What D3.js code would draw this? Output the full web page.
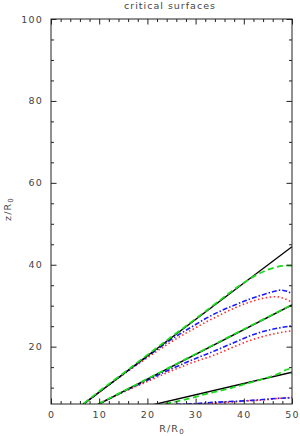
<!DOCTYPE html>
<html>
<head>
<meta charset="utf-8">
<script src="https://cdn.jsdelivr.net/npm/d3@7"></script>
<style>
  html, body { margin: 0; padding: 0; background: #fff; }
  svg { display: block; }
  text { font-family: "DejaVu Sans", sans-serif; fill: #444; }
</style>
</head>
<body>
<div id="chart"></div>
<script>
// straight critical lines through the origin (R, z end points)
const lineR = [0, 50];
const lineTopZ = [0, 44.4];
const lineMidZ = [0, 30.2];
const lineLowZ = [0, 13.75];

// green dashed
const greenTopR = [6.8, 10, 15, 20, 25, 30, 35, 38, 40, 42, 44, 46, 48, 50];
const greenTopZ = [6.1, 9.1, 13.5, 18.0, 22.4, 26.8, 31.3, 34.0, 35.6, 37.1, 38.3, 39.2, 39.7, 39.8];
const greenMidR = [9.9, 20, 30, 40, 50];
const greenMidZ = [6.05, 12.15, 18.2, 24.25, 30.25];
const greenLowR = [23.7, 26, 28.9, 32, 35, 37.9, 41, 44.8, 47, 49.4, 50];
const greenLowZ = [6.0, 6.6, 7.4, 8.4, 9.2, 10.1, 11.1, 12.4, 13.3, 14.5, 13.3];

// blue dash-dot
const blueTopR = [6.8, 10, 15, 20, 22, 25, 28, 30, 32, 35, 38, 41, 44, 46, 47.6, 49, 50];
const blueTopZ = [6.0, 8.9, 13.3, 17.6, 19.3, 21.8, 24.0, 25.4, 26.8, 28.6, 30.1, 31.5, 32.7, 33.4, 33.8, 33.5, 32.9];
const blueMidR = [9.95, 15, 20, 25, 30, 34, 38, 41, 44, 47, 50];
const blueMidZ = [6.0, 9.0, 11.8, 14.6, 17.1, 19.0, 21.0, 22.5, 23.7, 24.5, 25.1];
const blueLowR = [26, 30, 33.7, 37, 40.6, 44, 47.5, 50];
const blueLowZ = [5.9, 6.1, 6.4, 6.6, 6.8, 7.1, 7.4, 7.5];

// red dotted
const redTopR = [6.8, 10, 15, 20, 25, 28, 30, 32, 35, 38, 41, 44, 46.5, 48.5, 50];
const redTopZ = [6.0, 8.9, 13.2, 17.3, 21.2, 23.3, 24.6, 25.9, 27.7, 29.4, 30.8, 31.8, 32.2, 31.7, 30.8];
const redMidR = [9.95, 15, 20, 25, 30, 34, 38, 41, 44, 47, 50];
const redMidZ = [6.0, 8.9, 11.5, 14.1, 16.4, 18.0, 20.0, 21.4, 22.5, 23.3, 23.9];
const redLowR = [30, 35, 40, 44, 47.5, 50];
const redLowZ = [5.9, 6.3, 6.7, 7.0, 7.4, 7.6];

const xMajor = [0, 10, 20, 30, 40, 50];
const xMinor = d3.range(0, 51, 2).filter(v => v % 10 !== 0);
const yMajor = [20, 40, 60, 80, 100];
const yMinor = d3.range(10, 100, 5).filter(v => v % 20 !== 0);

const width = 300;
const height = 436;
const margin = { top: 19, right: 8, bottom: 32, left: 51 };

const svg = d3.select("#chart")
  .append("svg")
  .attr("width", width)
  .attr("height", height);

const x = d3.scaleLinear().domain([0, 50]).range([margin.left, width - margin.right]);
const y = d3.scaleLinear().domain([6, 100]).range([height - margin.bottom, margin.top]);

svg.append("clipPath").attr("id", "plot")
  .append("rect")
  .attr("x", x(0)).attr("y", y(100))
  .attr("width", x(50) - x(0)).attr("height", y(6) - y(100));

const zip = (rs, zs) => rs.map((r, i) => [r, zs[i]]);
const line = d3.line().x(d => x(d[0])).y(d => y(d[1])).curve(d3.curveMonotoneX);

const series = [
  { data: zip(lineR, lineTopZ), color: "#000", dash: null, w: 1.4 },
  { data: zip(lineR, lineMidZ), color: "#000", dash: null, w: 1.4 },
  { data: zip(lineR, lineLowZ), color: "#000", dash: null, w: 1.4 },
  { data: zip(greenTopR, greenTopZ), color: "#1bdc1b", dash: "6,3.5", w: 1.8 },
  { data: zip(greenMidR, greenMidZ), color: "#1bdc1b", dash: "6,3.5", w: 1.8 },
  { data: zip(greenLowR, greenLowZ), color: "#1bdc1b", dash: "6,3.5", w: 1.8 },
  { data: zip(blueTopR, blueTopZ), color: "#1a1aff", dash: "5,2,1.5,2", w: 1.6 },
  { data: zip(blueMidR, blueMidZ), color: "#1a1aff", dash: "5,2,1.5,2", w: 1.6 },
  { data: zip(blueLowR, blueLowZ), color: "#1a1aff", dash: "5,2,1.5,2", w: 1.6 },
  { data: zip(redTopR, redTopZ), color: "#ff2a2a", dash: "1.5,2.5", w: 1.6 },
  { data: zip(redMidR, redMidZ), color: "#ff2a2a", dash: "1.5,2.5", w: 1.6 },
  { data: zip(redLowR, redLowZ), color: "#ff2a2a", dash: "1.5,2.5", w: 1.6 }
];

// red first, then blue, green, black on top
const order = [9, 10, 11, 6, 7, 8, 0, 1, 2, 3, 4, 5];
svg.append("g")
  .attr("clip-path", "url(#plot)")
  .selectAll("path")
  .data(order.map(i => series[i]))
  .join("path")
  .attr("d", d => line(d.data))
  .attr("fill", "none")
  .attr("stroke", d => d.color)
  .attr("stroke-width", d => d.w)
  .attr("stroke-dasharray", d => d.dash);

const axisStyle = (g) => {
  g.select(".domain").remove();
  g.selectAll(".tick line").attr("stroke", "#222").attr("stroke-width", 1);
  g.selectAll(".tick text")
    .style("font-size", "9.5px")
    .style("letter-spacing", "1.2px")
    .attr("fill", "#444");
};

// bottom / top
svg.append("g")
  .attr("transform", `translate(0,${y(6)})`)
  .call(d3.axisBottom(x).tickValues(xMajor).tickSizeInner(-5.5).tickSizeOuter(0).tickPadding(7))
  .call(axisStyle);
svg.append("g")
  .attr("transform", `translate(0,${y(6)})`)
  .call(d3.axisBottom(x).tickValues(xMinor).tickSizeInner(-3).tickSizeOuter(0).tickFormat(""))
  .call(axisStyle);
svg.append("g")
  .attr("transform", `translate(0,${y(100)})`)
  .call(d3.axisTop(x).tickValues(xMajor).tickSizeInner(-5.5).tickSizeOuter(0).tickFormat(""))
  .call(axisStyle);
svg.append("g")
  .attr("transform", `translate(0,${y(100)})`)
  .call(d3.axisTop(x).tickValues(xMinor).tickSizeInner(-3).tickSizeOuter(0).tickFormat(""))
  .call(axisStyle);

// left / right
svg.append("g")
  .attr("transform", `translate(${x(0)},0)`)
  .call(d3.axisLeft(y).tickValues(yMajor).tickSizeInner(-5.5).tickSizeOuter(0).tickPadding(8))
  .call(axisStyle);
svg.append("g")
  .attr("transform", `translate(${x(0)},0)`)
  .call(d3.axisLeft(y).tickValues(yMinor).tickSizeInner(-3).tickSizeOuter(0).tickFormat(""))
  .call(axisStyle);
svg.append("g")
  .attr("transform", `translate(${x(50)},0)`)
  .call(d3.axisRight(y).tickValues(yMajor).tickSizeInner(-5.5).tickSizeOuter(0).tickFormat(""))
  .call(axisStyle);
svg.append("g")
  .attr("transform", `translate(${x(50)},0)`)
  .call(d3.axisRight(y).tickValues(yMinor).tickSizeInner(-3).tickSizeOuter(0).tickFormat(""))
  .call(axisStyle);

// frame
svg.append("rect")
  .attr("x", x(0)).attr("y", y(100))
  .attr("width", x(50) - x(0)).attr("height", y(6) - y(100))
  .attr("fill", "none")
  .attr("stroke", "#222")
  .attr("stroke-width", 1);

// title and axis labels
svg.append("text")
  .attr("x", 170).attr("y", 9)
  .attr("text-anchor", "middle")
  .style("font-size", "9.5px")
  .style("letter-spacing", "1px")
  .text("critical surfaces");

const xl = svg.append("text")
  .attr("x", 172).attr("y", 432)
  .attr("text-anchor", "middle")
  .style("font-size", "9.5px")
  .style("letter-spacing", "1.2px");
xl.append("tspan").text("R/R");
xl.append("tspan").attr("dy", 2).style("font-size", "7px").text("0");

const yl = svg.append("text")
  .attr("transform", "translate(11,209) rotate(-90)")
  .attr("text-anchor", "middle")
  .style("font-size", "9.5px")
  .style("letter-spacing", "1.2px");
yl.append("tspan").text("z/R");
yl.append("tspan").attr("dy", 2).style("font-size", "7px").text("0");
</script>
</body>
</html>
